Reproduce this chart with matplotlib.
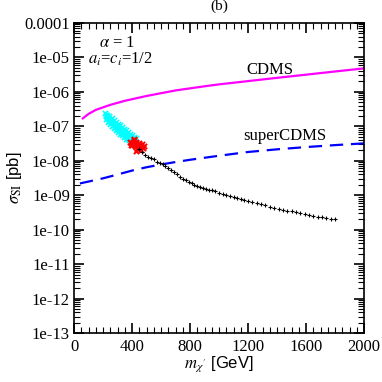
import matplotlib
matplotlib.use("Agg")
import matplotlib.pyplot as plt
from matplotlib.ticker import LogLocator, MultipleLocator, FixedLocator, NullFormatter

plt.rcParams['mathtext.fontset'] = 'stix'

# CDMS limit
cdms_m = [60, 100, 150, 250, 350, 500, 700, 900, 1000, 1200, 1400, 1600, 1800, 2000]
cdms_s = [1.7e-7, 2.3e-7, 3.0e-7, 4.2e-7, 5.5e-7, 7.6e-7, 1.1e-6, 1.45e-6, 1.65e-6, 2.05e-6,
          2.55e-6, 3.15e-6, 3.9e-6, 4.8e-6]

# superCDMS projection
scdms_m = [40, 100, 200, 300, 400, 500, 600, 700, 800, 1000, 1200, 1400, 1600, 1800, 2000]
scdms_s = [2.2e-9, 2.5e-9, 3.1e-9, 4.0e-9, 5.2e-9, 6.5e-9, 7.8e-9, 9.2e-9, 1.07e-8, 1.4e-8,
           1.8e-8, 2.15e-8, 2.5e-8, 2.85e-8, 3.2e-8]

# cyan points
cyan_m = [212, 220, 228, 236, 244, 252, 260, 268, 276, 284, 292, 300, 308, 316, 324, 332,
          340, 348, 356, 364, 372, 380, 388, 396, 404, 412, 420,
          218, 232, 246, 262, 278, 290, 304, 318, 330, 346, 360, 376, 392, 408, 424,
          230, 244, 258, 272, 286, 300, 314, 328, 342, 356, 370, 384, 398, 412, 430,
          222, 240, 256, 270, 284, 298, 312, 326, 340, 354, 368, 382, 396]
cyan_s = [2.4e-7, 2.1e-7, 1.9e-7, 1.75e-7, 1.6e-7, 1.45e-7, 1.35e-7, 1.25e-7, 1.15e-7, 1.05e-7,
          9.8e-8, 9.0e-8, 8.4e-8, 7.8e-8, 7.2e-8, 6.7e-8, 6.2e-8, 5.8e-8, 5.4e-8, 5.0e-8,
          4.7e-8, 4.4e-8, 4.2e-8, 4.0e-8, 3.8e-8, 3.6e-8, 3.5e-8,
          1.6e-7, 1.35e-7, 1.15e-7, 1.0e-7, 8.7e-8, 7.8e-8, 6.9e-8, 6.1e-8, 5.5e-8, 4.9e-8,
          4.4e-8, 3.9e-8, 3.5e-8, 3.2e-8, 3.0e-8,
          2.2e-7, 1.95e-7, 1.7e-7, 1.5e-7, 1.35e-7, 1.2e-7, 1.07e-7, 9.5e-8, 8.5e-8, 7.6e-8,
          6.8e-8, 6.1e-8, 5.5e-8, 5.0e-8, 4.5e-8,
          2.0e-7, 1.55e-7, 1.3e-7, 1.12e-7, 9.8e-8, 8.6e-8, 7.6e-8, 6.7e-8, 6.0e-8, 5.3e-8,
          4.8e-8, 4.3e-8, 3.9e-8]

# red points
red_m = [385, 395, 405, 415, 425, 435, 445, 455, 465, 475, 400, 420, 440, 460, 410, 430, 450,
         425, 390, 470, 480, 435, 415]
red_s = [3.6e-8, 3.3e-8, 3.4e-8, 3.0e-8, 3.2e-8, 2.9e-8, 2.7e-8, 2.8e-8, 2.5e-8, 2.4e-8,
         2.8e-8, 2.6e-8, 2.3e-8, 2.1e-8, 3.9e-8, 3.6e-8, 3.3e-8, 1.9e-8, 2.9e-8, 3.0e-8,
         2.7e-8, 2.2e-8, 4.2e-8]

# black points
blk_m = [450, 470, 490, 510, 530, 550, 570, 590, 610, 630, 650, 670, 690, 710, 730, 750,
         770, 790, 810, 830, 850, 870, 890, 910, 930, 950, 975, 1000, 1025, 1050, 1075,
         1100, 1125, 1150, 1175, 1200, 1230, 1260, 1290, 1320, 1350, 1380, 1410, 1440,
         1470, 1500, 1530, 1560, 1590, 1620, 1650, 1680, 1710, 1740, 1770, 1800]
blk_s = [2.2e-8, 1.8e-8, 1.5e-8, 1.3e-8, 1.2e-8, 1.1e-8, 9.5e-9, 8.9e-9, 7.8e-9, 7.0e-9,
         6.0e-9, 5.3e-9, 4.6e-9, 4.0e-9, 3.3e-9, 3.0e-9, 2.7e-9, 2.4e-9, 2.2e-9, 2.0e-9,
         1.9e-9, 1.75e-9, 1.65e-9, 1.55e-9, 1.45e-9, 1.4e-9, 1.3e-9, 1.2e-9, 1.1e-9, 1.02e-9,
         9.5e-10, 8.8e-10, 8.2e-10, 7.8e-10, 7.3e-10, 6.9e-10, 6.4e-10, 5.9e-10, 5.5e-10,
         5.1e-10, 4.7e-10, 4.4e-10, 4.1e-10, 3.8e-10, 3.6e-10, 3.4e-10, 3.2e-10, 3.0e-10,
         2.85e-10, 2.7e-10, 2.55e-10, 2.4e-10, 2.3e-10, 2.2e-10, 2.1e-10, 2.0e-10]

xticks = [0, 400, 800, 1200, 1600, 2000]
xticklabels = ["0", "400", "800", "1200", "1600", "2000"]
yticks = [1e-13, 1e-12, 1e-11, 1e-10, 1e-9, 1e-8, 1e-7, 1e-6, 1e-5, 1e-4]
yticklabels = ["1e-13", "1e-12", "1e-11", "1e-10", "1e-09", "1e-08", "1e-07", "1e-06", "1e-05", "0.0001"]

serif = "Liberation Serif"

fig = plt.figure(figsize=(3.82, 3.82), dpi=100)
ax = fig.add_axes([0.194, 0.128, 0.759, 0.812])

ax.plot(cdms_m, cdms_s, color="#ff00ff", lw=1.6)
ax.plot(scdms_m, scdms_s, color="#0000ff", lw=1.6, ls=(0, (6, 3.5)))
ax.scatter(cyan_m, cyan_s, marker="x", s=14, color="#00ffff", lw=1.2, zorder=3)
ax.scatter(red_m, red_s, marker="x", s=14, color="#ff0000", lw=1.4, zorder=4)
ax.scatter(blk_m, blk_s, marker="+", s=7, color="black", lw=0.8, zorder=5)

ax.set_yscale("log")
ax.set_xlim(0, 2000)
ax.set_ylim(1e-13, 1e-4)

ax.xaxis.set_major_locator(FixedLocator(xticks))
ax.set_xticklabels(xticklabels, fontfamily=serif, fontsize=12)
ax.xaxis.set_minor_locator(MultipleLocator(50))
ax.yaxis.set_major_locator(FixedLocator(yticks))
ax.set_yticklabels(yticklabels, fontfamily=serif, fontsize=12)
ax.yaxis.set_minor_locator(LogLocator(base=10, subs=range(2, 10), numticks=20))
ax.yaxis.set_minor_formatter(NullFormatter())

ax.tick_params(which="both", direction="in", top=True, right=True)
ax.tick_params(which="major", length=7, width=1.2)
ax.tick_params(axis="y", which="major", pad=3)
ax.tick_params(axis="x", which="major", pad=4)
ax.tick_params(which="minor", length=4, width=0.8)
for s in ax.spines.values():
    s.set_linewidth(1.2)

ax.set_xlabel(r"$m_{\chi'}$ [GeV]", fontsize=12, fontfamily="Liberation Sans", labelpad=0)
ax.set_ylabel(r"$\sigma_{\rm SI}$ [pb]", fontsize=12, fontfamily="Liberation Sans", labelpad=0)

ax.text(0.5, 1.055, "(b)", transform=ax.transAxes, ha="center", va="center",
        fontfamily=serif, fontsize=11)
ax.text(0.15, 0.935, r"$\alpha$ = 1", transform=ax.transAxes, ha="center", va="center",
        fontfamily=serif, fontsize=12)
ax.text(0.159, 0.884, r"$a_i$=$c_i$=1/2", transform=ax.transAxes, ha="center", va="center",
        fontfamily=serif, fontsize=12)
ax.text(1352, 4.3e-6, "CDMS", ha="center", va="center", fontfamily=serif, fontsize=12)
ax.text(1455, 5.2e-8, "superCDMS", ha="center", va="center", fontfamily=serif, fontsize=12)

fig.savefig("out.png", dpi=100)
